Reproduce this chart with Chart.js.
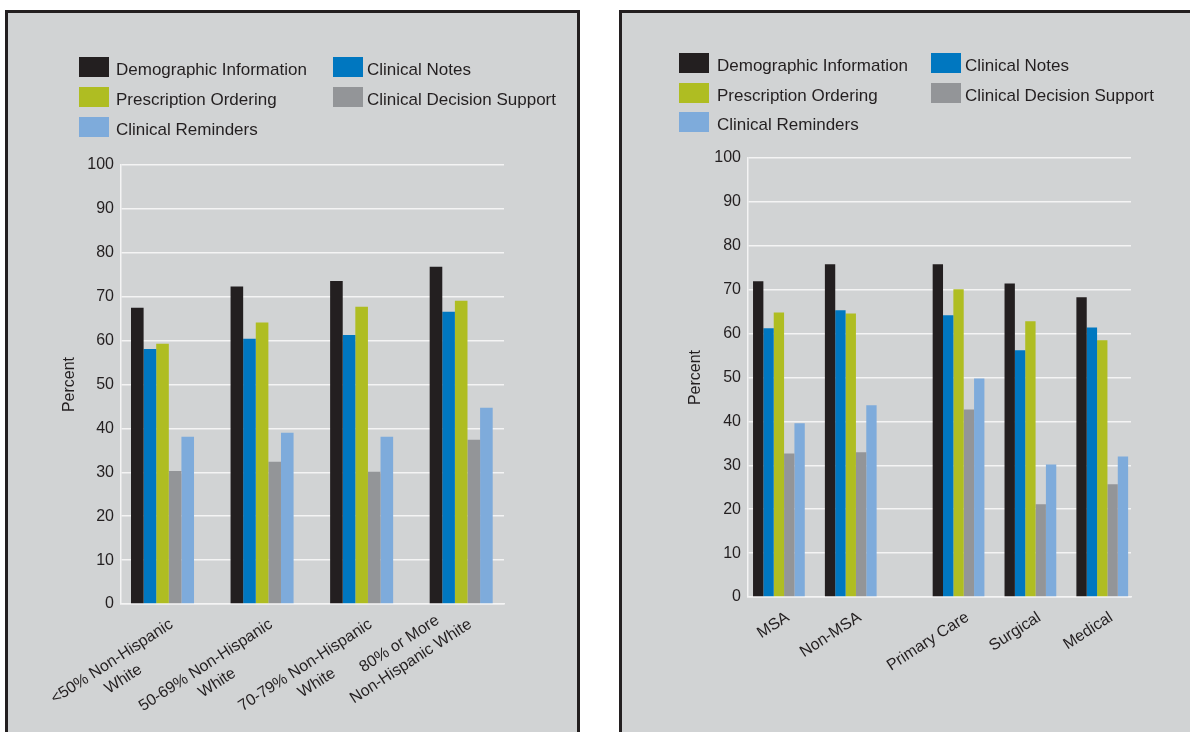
<!DOCTYPE html>
<html>
<head>
<meta charset="utf-8">
<script src="https://cdn.jsdelivr.net/npm/chart.js@4.4.1/dist/chart.umd.min.js"></script>
<style>
    body { margin: 0; background: #ffffff; width: 1190px; height: 732px; overflow: hidden; position: relative; font-family: "Liberation Sans", Arial, sans-serif; }
    .panel { position: absolute; top: 10px; height: 740px; background: #d1d3d4; border: 3px solid #231f20; box-sizing: border-box; }
    #leftPanel { left: 5px; width: 575px; }
    #rightPanel { left: 619px; width: 600px; }
    canvas { position: absolute; left: 0; top: 0; }
    .item { position: absolute; height: 20px; }
    .swatch { position: absolute; left: 0; top: 0; width: 30px; height: 20px; }
    .label { position: absolute; top: 3px; white-space: nowrap; font-size: 17px; line-height: 20px; color: #231f20; }
</style>
</head>
<body>
<div class="panel" id="leftPanel"><canvas id="raceChart" width="569" height="719"></canvas></div>
<div class="panel" id="rightPanel"><canvas id="siteChart" width="568" height="719"></canvas></div>
<script>
// Series shared by both panels
const seriesNames = ['Demographic Information', 'Clinical Notes', 'Prescription Ordering', 'Clinical Decision Support', 'Clinical Reminders'];
const seriesColors = ['#231f20', '#0077c0', '#afbd22', '#939598', '#7eabdb'];
const percentTicks = [0, 10, 20, 30, 40, 50, 60, 70, 80, 90, 100];

// Left panel: share of non-Hispanic white population
const raceLabels = [['<50% Non-Hispanic', 'White'], ['50-69% Non-Hispanic', 'White'], ['70-79% Non-Hispanic', 'White'], ['80% or More', 'Non-Hispanic White']];
const raceSlots = [0, 1, 2, 3];
const raceDemographic = [67.5, 72.3, 73.6, 76.8];
const raceNotes = [58.1, 60.4, 61.3, 66.6];
const racePrescription = [59.3, 64.1, 67.7, 69.1];
const raceDecision = [30.3, 32.4, 30.1, 37.4];
const raceReminders = [38.1, 39.0, 38.1, 44.7];

// Right panel: location and specialty
const siteLabels = [['MSA'], ['Non-MSA'], ['Primary Care'], ['Surgical'], ['Medical']];
const siteSlots = [0, 1, 2.5, 3.5, 4.5];
const siteDemographic = [71.9, 75.8, 75.8, 71.4, 68.3];
const siteNotes = [61.2, 65.3, 64.2, 56.2, 61.4];
const sitePrescription = [64.8, 64.6, 70.1, 62.8, 58.5];
const siteDecision = [32.7, 33.0, 42.7, 21.1, 25.7];
const siteReminders = [39.6, 43.7, 49.8, 30.2, 32.0];

const FONT = '"Liberation Sans", Arial, sans-serif';
const TEXT = '#231f20';
const GRID = '#f4f4f4';

// Rotated, centred multi-line category labels under the x axis.
// The end of the widest line sits just right of the group centre.
function makeLabelPlugin(labels, slots) {
    return {
        id: 'xLabels',
        afterDraw(chart) {
            const ctx = chart.ctx;
            const xs = chart.scales.x;
            ctx.save();
            ctx.font = '16px ' + FONT;
            ctx.fillStyle = TEXT;
            ctx.textAlign = 'center';
            ctx.textBaseline = 'middle';
            labels.forEach((lines, i) => {
                const px = xs.getPixelForValue(slots[i]);
                const widths = lines.map(t => ctx.measureText(t).width);
                const w = Math.max(...widths);
                const widest = widths.indexOf(w);
                ctx.save();
                ctx.translate(px + 9, xs.top + 19);
                ctx.rotate(-33 * Math.PI / 180);
                lines.forEach((t, j) => ctx.fillText(t, -w / 2, (j - widest) * 21));
                ctx.restore();
            });
            ctx.restore();
        }
    };
}

function buildLegend(panel, cols, rows) {
    seriesNames.forEach((name, i) => {
        const col = i % 2;
        const item = document.createElement('div');
        item.className = 'item';
        item.style.left = cols[col][0] + 'px';
        item.style.top = rows[Math.floor(i / 2)] + 'px';
        item.innerHTML = '<div class="swatch" style="background:' + seriesColors[i] + '"></div>' +
            '<div class="label" style="left:' + cols[col][1] + 'px">' + name + '</div>';
        panel.appendChild(item);
    });
}

function makeChart(canvasId, slots, labels, series, L) {
    const datasets = series.map((values, s) => ({
        label: seriesNames[s],
        data: values.map((v, i) => ({ x: slots[i], y: v })),
        backgroundColor: seriesColors[s],
        borderWidth: 0,
        categoryPercentage: L.catPct,
        barPercentage: 1
    }));

    return new Chart(document.getElementById(canvasId), {
        type: 'bar',
        data: { datasets: datasets },
        options: {
            responsive: false,
            animation: false,
            layout: { padding: { left: 0, top: L.top, right: L.right, bottom: 0 } },
            plugins: { legend: { display: false }, tooltip: { enabled: false } },
            scales: {
                x: {
                    type: 'linear',
                    min: L.xMin,
                    max: L.xMax,
                    offset: false,
                    grid: { display: false },
                    border: { display: true, color: GRID, width: 1.5 },
                    ticks: { display: false },
                    afterBuildTicks: s => { s.ticks = slots.map(v => ({ value: v })); },
                    afterFit: s => { s.height = L.bottom; }
                },
                y: {
                    min: 0,
                    max: 100,
                    afterBuildTicks: s => { s.ticks = percentTicks.map(v => ({ value: v })); },
                    grid: { color: GRID, lineWidth: 1.5, drawTicks: false },
                    border: { color: GRID, width: 1.5 },
                    ticks: { color: TEXT, padding: 7, font: { family: FONT, size: 16 } },
                    title: {
                        display: true,
                        text: 'Percent',
                        color: TEXT,
                        font: { family: FONT, size: 16 },
                        padding: { top: L.titlePad, bottom: 0 }
                    },
                    afterFit: s => { s.width = L.yWidth; }
                }
            }
        },
        plugins: [makeLabelPlugin(labels, slots)]
    });
}

makeChart('raceChart', raceSlots, raceLabels,
    [raceDemographic, raceNotes, racePrescription, raceDecision, raceReminders],
    { top: 152, right: 73, bottom: 128, yWidth: 113, titlePad: 52, xMin: -0.417, xMax: 3.43, catPct: 0.633 });

makeChart('siteChart', siteSlots, siteLabels,
    [siteDemographic, siteNotes, sitePrescription, siteDecision, siteReminders],
    { top: 145, right: 59, bottom: 135, yWidth: 126, titlePad: 64, xMin: -0.43, xMax: 4.9, catPct: 0.72 });

buildLegend(document.getElementById('leftPanel'), [[71, 37], [325, 34]], [44, 74, 104]);
buildLegend(document.getElementById('rightPanel'), [[57, 38], [309, 34]], [40, 70, 99]);
</script>
</body>
</html>
